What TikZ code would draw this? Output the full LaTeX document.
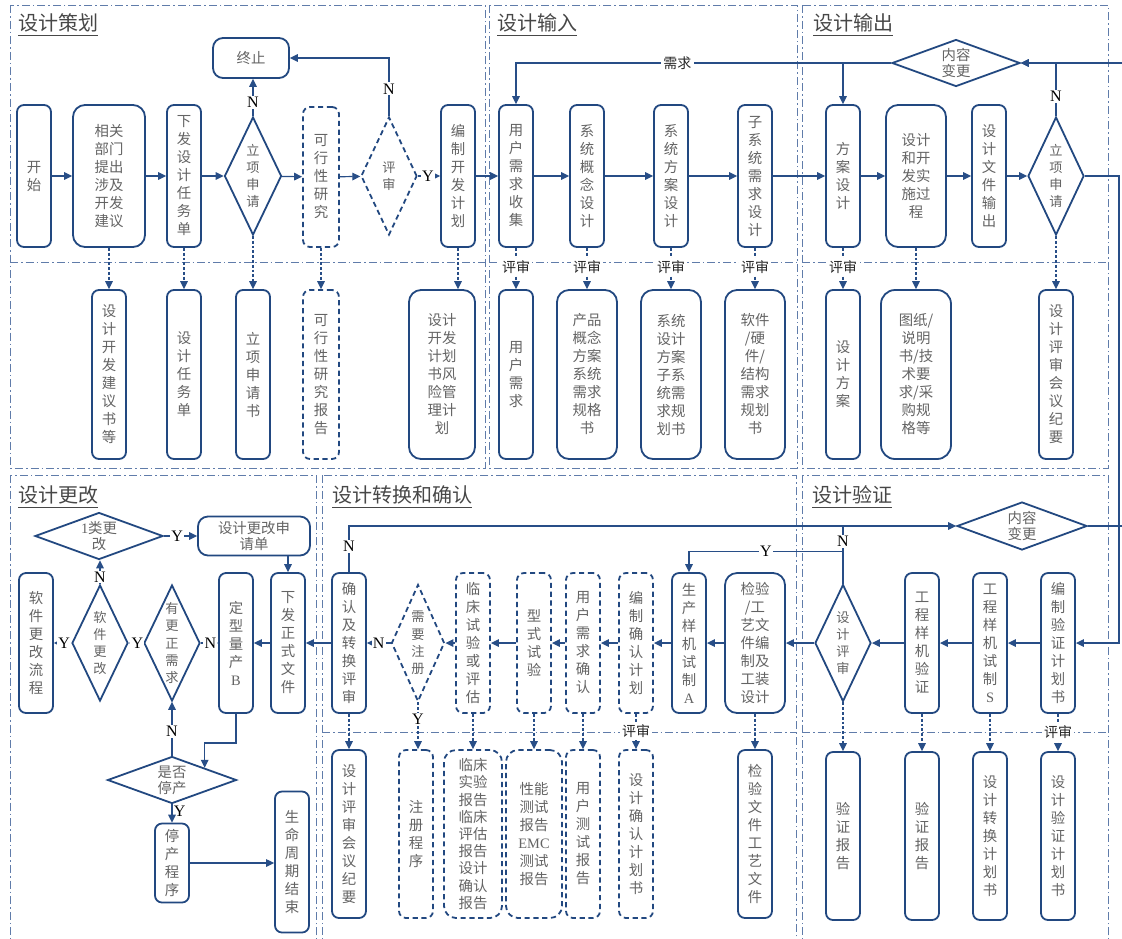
\documentclass[tikz,border=0pt]{standalone}
\usepackage{fontspec}
\setmainfont{Liberation Serif}
\newfontfamily\cjk{Noto Sans CJK SC}
\usetikzlibrary{arrows.meta, shapes.geometric, calc}
\definecolor{boxblue}{RGB}{34,72,128}
\definecolor{lineblue}{RGB}{40,78,135}
\definecolor{frameblue}{RGB}{96,124,170}
\definecolor{txtgray}{RGB}{100,100,100}
\newcommand{\boxfont}{\cjk\fontsize{7.2}{9}\selectfont}
\newcommand{\diafont}{\cjk\fontsize{6.6}{8.6}\selectfont}
\newcommand{\ynfont}{\rmfamily\fontsize{8}{9}\selectfont}

\tikzset{
  box/.style={draw=boxblue, line width=0.9pt, rounded corners=3.5pt, fill=white,
    text=txtgray, font=\boxfont, align=center, inner sep=1pt,
    minimum width=17pt, minimum height=71pt},
  dbox/.style={box, dash pattern=on 2.6pt off 1.8pt},
  doc/.style={box, minimum height=84.5pt},
  ddoc/.style={doc, dash pattern=on 2.6pt off 1.8pt},
  dia/.style={diamond, draw=boxblue, line width=0.9pt, fill=white, text=txtgray,
    font=\diafont, align=center, inner sep=0pt},
  ddia/.style={dia, dash pattern=on 2.6pt off 1.8pt},
  conn/.style={draw=lineblue, line width=0.6pt, -{Triangle[length=4pt,width=3.8pt]}},
  connline/.style={draw=lineblue, line width=0.6pt},
  dotconn/.style={conn, dash pattern=on 1.4pt off 1pt},
  frame/.style={draw=frameblue, line width=0.5pt, dash pattern=on 4pt off 1.5pt on 0.8pt off 1.5pt},
  title/.style={anchor=west, font=\cjk\fontsize{10}{12}\selectfont, text=black!72, inner sep=0pt},
  yn/.style={font=\ynfont, text=black, fill=white, inner sep=0.6pt},
  lbl/.style={font=\cjk\fontsize{7}{8}\selectfont, text=black!85, fill=white, inner sep=1.2pt}
}

\begin{document}
\begin{tikzpicture}[x=0.5pt, y=-0.5pt]
\useasboundingbox (0,0) rectangle (1122,938);

% 分区框
\draw[frame] (10,5) rectangle (485,468);
\draw[frame] (10,262) -- (485,262);
\draw[frame] (489,5) rectangle (797,468);
\draw[frame] (489,262) -- (797,262);
\draw[frame] (802,5) rectangle (1108,468);
\draw[frame] (802,262) -- (1108,262);
\draw[frame] (10,475) rectangle (316,950);
\draw[frame] (322,475) rectangle (796,950);
\draw[frame] (322,732) -- (796,732);
\draw[frame] (802,475) rectangle (1108,950);
\draw[frame] (802,732) -- (1108,732);

\node[title] at (18,25) {\underline{设计策划}};
\node[title] at (497,25) {\underline{设计输入}};
\node[title] at (813,25) {\underline{设计输出}};
\node[title] at (18,497) {\underline{设计更改}};
\node[title] at (332,497) {\underline{设计转换和确认}};
\node[title] at (812,497) {\underline{设计验证}};

% 设计策划
\node[box] (kaishi) at (34,176) {开\\始};
\node[box, minimum width=36pt, rounded corners=6pt] (xiangguan) at (109,176) {相关\\部门\\提出\\涉及\\开发\\建议};
\node[box] (xiafa) at (184,176) {下\\发\\设\\计\\任\\务\\单};
\node[dia, minimum width=28.5pt, minimum height=59pt, shape aspect=0.48] (lixiang1) at (253,176) {立\\项\\申\\请};
\node[box, minimum width=38pt, minimum height=20pt, rounded corners=5pt] (zhongzhi) at (251,58) {终止};
\node[dbox, minimum width=18pt, minimum height=70pt] (kexing) at (321,177) {可\\行\\性\\研\\究};
\node[ddia, minimum width=28pt, minimum height=59pt, shape aspect=0.47] (pingshen1) at (389,176) {评\\审};
\node[box] (bianzhi) at (458,176) {编\\制\\开\\发\\计\\划};

\node[doc] (d_jianyi) at (109,374.5) {设\\计\\开\\发\\建\\议\\书\\等};
\node[doc] (d_renwu) at (184,374.5) {设\\计\\任\\务\\单};
\node[doc] (d_shenqing) at (253,374.5) {立\\项\\申\\请\\书};
\node[ddoc, minimum width=18pt] (d_kexing) at (321,374.5) {可\\行\\性\\研\\究\\报\\告};
\node[doc, minimum width=33pt, rounded corners=6pt] (d_jihua) at (442,374.5) {设计\\开发\\计划\\书风\\险管\\理计\\划};

% 设计输入
\node[box] (yonghu) at (516,176) {用\\户\\需\\求\\收\\集};
\node[box] (xitonggn) at (587,176) {系\\统\\概\\念\\设\\计};
\node[box] (xitongfa) at (671,176) {系\\统\\方\\案\\设\\计};
\node[box] (zixitong) at (755,176) {子\\系\\统\\需\\求\\设\\计};

\node[doc] (d_xuqiu) at (516,374.5) {用\\户\\需\\求};
\node[doc, minimum width=30pt, rounded corners=6pt] (d_chanpin) at (587,374.5) {产品\\概念\\方案\\系统\\需求\\规格\\书};
\node[doc, minimum width=30pt, rounded corners=6pt] (d_xitong) at (671,374.5) {系统\\设计\\方案\\子系\\统需\\求规\\划书};
\node[doc, minimum width=30pt, rounded corners=6pt] (d_ruanjian) at (755,374.5) {软件\\/硬\\件/\\结构\\需求\\规划\\书};

% 设计输出
\node[dia, minimum width=64pt, minimum height=23.5pt, shape aspect=2.7, font=\cjk\fontsize{7.2}{8}\selectfont] (biangeng1) at (956,63) {内容\\变更};
\node[box] (fangan) at (843,176) {方\\案\\设\\计};
\node[box, minimum width=30pt, rounded corners=6pt] (shejikf) at (916,176) {设计\\和开\\发实\\施过\\程};
\node[box] (wenjian) at (989,176) {设\\计\\文\\件\\输\\出};
\node[dia, minimum width=28pt, minimum height=59pt, shape aspect=0.47] (lixiang2) at (1056,176) {立\\项\\申\\请};

\node[doc] (d_fangan) at (843,374.5) {设\\计\\方\\案};
\node[doc, minimum width=35pt, rounded corners=7pt] (d_tuzhi) at (916,374.5) {图纸/\\说明\\书/技\\术要\\求/采\\购规\\格等};
\node[doc] (d_jiyao) at (1056,374.5) {设\\计\\评\\审\\会\\议\\纪\\要};

% 设计更改
\node[dia, minimum width=64pt, minimum height=23.5pt, shape aspect=2.7, font=\cjk\fontsize{7.2}{8}\selectfont] (leibg) at (99,536) {{\rmfamily 1}类更\\改};
\node[box, minimum width=56pt, minimum height=19.5pt, rounded corners=5pt, font=\cjk\fontsize{7.2}{8.4}\selectfont] (shenqingdan) at (254,536) {设计更改申\\请单};
\node[box, minimum height=70pt] (xiafa2) at (288,643) {下\\发\\正\\式\\文\\件};
\node[box, minimum height=70pt] (dingxing) at (236,643) {定\\型\\量\\产\\{\rmfamily B}};
\node[dia, minimum width=28pt, minimum height=58pt, shape aspect=0.48] (gengzheng) at (172,643) {有\\更\\正\\需\\求};
\node[dia, minimum width=28pt, minimum height=58pt, shape aspect=0.48] (ruanjian) at (100,643) {软\\件\\更\\改};
\node[box, minimum height=70pt] (liucheng) at (36,643) {软\\件\\更\\改\\流\\程};
\node[dia, minimum width=64.5pt, minimum height=23.5pt, shape aspect=2.7, font=\cjk\fontsize{7.2}{8}\selectfont] (tingchan) at (172,780) {是否\\停产};
\node[box, minimum height=39.5pt] (tingchancx) at (172,863) {停\\产\\程\\序};
\node[box, minimum height=70.5pt] (shengming) at (292,862) {生\\命\\周\\期\\结\\束};

% 设计转换和确认
\node[box, minimum height=70pt] (queren) at (349,643) {确\\认\\及\\转\\换\\评\\审};
\node[ddia, minimum width=26.5pt, minimum height=58.5pt, shape aspect=0.45] (zhuce) at (418,643) {需\\要\\注\\册};
\node[dbox, minimum height=70pt] (linchuang) at (473,643) {临\\床\\试\\验\\或\\评\\估};
\node[dbox, minimum height=70pt] (xingshi) at (534,643) {型\\式\\试\\验};
\node[dbox, minimum height=70pt] (yonghuqr) at (583,643) {用\\户\\需\\求\\确\\认};
\node[dbox, minimum height=70pt] (bianzhiqr) at (636,643) {编\\制\\确\\认\\计\\划};
\node[box, minimum height=70pt] (shengchan) at (689,643) {生\\产\\样\\机\\试\\制\\{\rmfamily A}};
\node[box, minimum height=70pt, minimum width=30pt, rounded corners=6pt] (jianyan) at (755,643) {检验\\/工\\艺文\\件编\\制及\\工装\\设计};

\node[doc, minimum height=84pt] (b_jiyao) at (349,834) {设\\计\\评\\审\\会\\议\\纪\\要};
\node[ddoc, minimum height=84pt] (b_zhuce) at (416,834) {注\\册\\程\\序};
\node[ddoc, minimum height=84pt, minimum width=29pt, rounded corners=6pt, font=\cjk\fontsize{7.2}{8.6}\selectfont] (b_linchuang) at (473,834) {临床\\实验\\报告\\临床\\评估\\报告\\设计\\确认\\报告};
\node[ddoc, minimum height=84pt, minimum width=28pt, rounded corners=6pt] (b_xingneng) at (534,834) {性能\\测试\\报告\\{\rmfamily EMC}\\测试\\报告};
\node[ddoc, minimum height=84pt] (b_yonghu) at (583,834) {用\\户\\测\\试\\报\\告};
\node[ddoc, minimum height=84pt] (b_queren) at (636,834) {设\\计\\确\\认\\计\\划\\书};
\node[doc, minimum height=84pt] (b_jianyan) at (755,834) {检\\验\\文\\件\\工\\艺\\文\\件};

% 设计验证
\node[dia, minimum width=65pt, minimum height=24pt, shape aspect=2.7, font=\cjk\fontsize{7.2}{8}\selectfont] (biangeng2) at (1022,526) {内容\\变更};
\node[dia, minimum width=28pt, minimum height=58.5pt, shape aspect=0.48] (shejips) at (843,643) {设\\计\\评\\审};
\node[box, minimum height=70pt] (gcyz) at (922,643) {工\\程\\样\\机\\验\\证};
\node[box, minimum height=70pt] (gcsz) at (990,643) {工\\程\\样\\机\\试\\制\\{\rmfamily S}};
\node[box, minimum height=70pt] (bzyz) at (1058,643) {编\\制\\验\\证\\计\\划\\书};

\node[doc, minimum height=84pt] (b_yz1) at (843,836) {验\\证\\报\\告};
\node[doc, minimum height=84pt] (b_yz2) at (922,836) {验\\证\\报\\告};
\node[doc, minimum height=84pt] (b_zhjh) at (990,836) {设\\计\\转\\换\\计\\划\\书};
\node[doc, minimum height=84pt] (b_yzjh) at (1058,836) {设\\计\\验\\证\\计\\划\\书};

% 主流程（上）
\foreach \a/\b in {kaishi/xiangguan, xiangguan/xiafa, xiafa/lixiang1, lixiang1/kexing,
  kexing/pingshen1, bianzhi/yonghu, yonghu/xitonggn, xitonggn/xitongfa,
  xitongfa/zixitong, zixitong/fangan, fangan/shejikf, shejikf/wenjian, wenjian/lixiang2}
  \draw[conn] (\a) -- (\b);
\draw[conn] (pingshen1) -- node[yn, pos=0.45]{Y} (bianzhi);
\draw[conn] (lixiang1.north) -- node[yn, pos=0.36]{N} (lixiang1.north |- zhongzhi.south);
\draw[conn] (pingshen1.north) -- node[yn, pos=0.47]{N} (pingshen1.north |- zhongzhi.east) -- (zhongzhi.east);
\draw[conn] (biangeng1.west) -- node[lbl, pos=0.57]{需求} (yonghu.north |- biangeng1.west) -- (yonghu.north);
\draw[conn] (fangan.north |- biangeng1.west) -- (fangan.north);
\draw[conn] (lixiang2.north) -- node[yn, pos=0.37]{N} (lixiang2.north |- biangeng1.east) -- (biangeng1.east);
\coordinate (edgeR) at (1127,0);
\coordinate (edgeV) at (1119,0);
\draw[conn] (biangeng2.east) -- (biangeng2.east -| edgeR) |- (biangeng1.east);
\draw[conn] (lixiang2.east) -- (lixiang2.east -| edgeV) |- (bzyz.east);

% 输出文件（上）
\foreach \a/\b in {xiangguan/d_jianyi, xiafa/d_renwu, lixiang1/d_shenqing, kexing/d_kexing,
  bianzhi/d_jihua, shejikf/d_tuzhi, lixiang2/d_jiyao}
  \draw[dotconn] (\a.south) -- (\a.south |- \b.north);
\foreach \a/\b in {yonghu/d_xuqiu, xitonggn/d_chanpin, xitongfa/d_xitong,
  zixitong/d_ruanjian, fangan/d_fangan}
  \draw[dotconn] (\a.south) -- node[lbl, pos=0.47]{评审} (\a.south |- \b.north);

% 主流程（下）
\foreach \a/\b in {bzyz/gcsz, gcsz/gcyz, gcyz/shejips, shejips/jianyan, jianyan/shengchan,
  shengchan/bianzhiqr, bianzhiqr/yonghuqr, yonghuqr/xingshi, xingshi/linchuang,
  linchuang/zhuce, queren/xiafa2, xiafa2/dingxing}
  \draw[conn] (\a) -- (\b);
\draw[conn] (zhuce) -- node[yn, pos=0.5]{N} (queren);
\draw[conn] (gengzheng) -- node[yn, pos=0.55]{N} (dingxing);
\draw[conn] (gengzheng) -- node[yn, pos=0.4]{Y} (ruanjian);
\draw[conn] (ruanjian) -- node[yn, pos=0.4]{Y} (liucheng);
\draw[conn] (ruanjian.north) -- node[yn, pos=0.3]{N} (ruanjian.north |- leibg.south);
\draw[conn] (leibg) -- node[yn, pos=0.4]{Y} (shenqingdan);
\draw[conn] (xiafa2.north |- shenqingdan.south) -- (xiafa2.north);
\draw[conn] (dingxing.south) -- ++(0,29) -| (tingchan.north east);
\draw[conn] (tingchan.north) -- node[yn, pos=0.45]{N} (gengzheng.south);
\draw[conn] (tingchan.south) -- node[yn, right, fill=none, pos=0.4]{Y} (tingchancx.north);
\draw[conn] (tingchancx.east) -- (tingchancx.east -| shengming.west);
\draw[conn] (queren.north) -- node[yn, pos=0.55]{N} (queren.north |- biangeng2.west) -- (biangeng2.west);
\draw[connline] (shejips.north) -- node[yn, pos=0.73]{N} (shejips.north |- biangeng2.west);
\coordinate (yjoin) at ($(shejips.north)+(0,-32)$);
\draw[conn] (yjoin) -| node[yn, pos=0.25]{Y} (shengchan.north);

% 输出文件（下）
\foreach \a/\b in {queren/b_jiyao, linchuang/b_linchuang, xingshi/b_xingneng,
  yonghuqr/b_yonghu, jianyan/b_jianyan, shejips/b_yz1, gcyz/b_yz2, gcsz/b_zhjh}
  \draw[dotconn] (\a.south) -- (\a.south |- \b.north);
\draw[dotconn] (zhuce.south) -- node[yn, pos=0.36]{Y} (zhuce.south |- b_zhuce.north);
\draw[dotconn] (bianzhiqr.south) -- node[lbl, pos=0.5]{评审} (bianzhiqr.south |- b_queren.north);
\draw[dotconn] (bzyz.south) -- node[lbl, pos=0.5]{评审} (bzyz.south |- b_yzjh.north);
\end{tikzpicture}
\end{document}
